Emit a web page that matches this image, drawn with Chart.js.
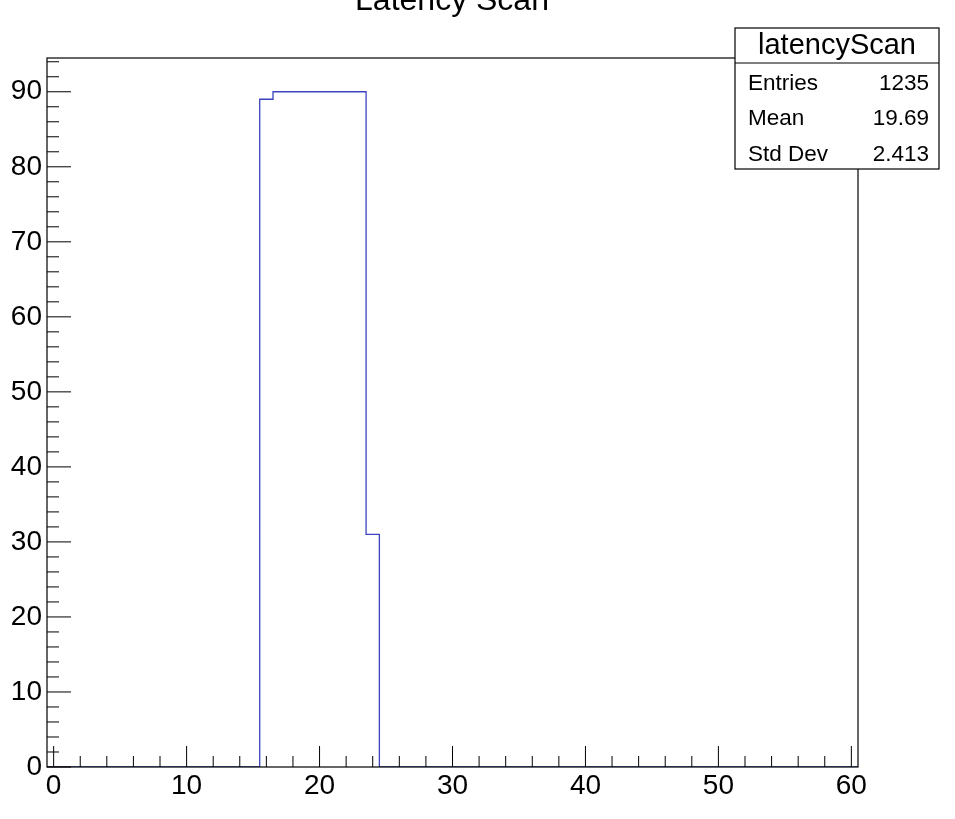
<!DOCTYPE html>
<html>
<head>
<meta charset="utf-8">
<title>Latency Scan</title>
<script src="https://cdn.jsdelivr.net/npm/chart.js@4.4.1/dist/chart.umd.min.js"></script>
<style>
  html, body { margin: 0; padding: 0; background: #fff; }
  #wrap { width: 955px; height: 819px; position: relative; }
</style>
</head>
<body>
<div id="wrap"><canvas id="myChart" width="955" height="819"></canvas></div>
<script>
// histogram data: bins of width 1 centred on 0..60
const binLow = -0.5;
const binWidth = 1;
const counts = [
  0, 0, 0, 0, 0, 0, 0, 0, 0, 0,
  0, 0, 0, 0, 0, 0, 89, 90, 90, 90,
  90, 90, 90, 90, 31, 0, 0, 0, 0, 0,
  0, 0, 0, 0, 0, 0, 0, 0, 0, 0,
  0, 0, 0, 0, 0, 0, 0, 0, 0, 0,
  0, 0, 0, 0, 0, 0, 0, 0, 0, 0,
  0
];
const xTicks = [0, 10, 20, 30, 40, 50, 60];
const yTicks = [0, 10, 20, 30, 40, 50, 60, 70, 80, 90];
const statsTitle = 'latencyScan';
const statsLabels = ['Entries', 'Mean', 'Std Dev'];
const statsValues = ['1235', '19.69', '2.413'];
const chartTitle = 'Latency Scan';

const FONT = '"Liberation Sans", Helvetica, Arial, sans-serif';

// step outline points at bin edges
const edges = counts.map((c, i) => ({ x: binLow + i * binWidth, y: c }));
edges.push({ x: binLow + counts.length * binWidth, y: counts[counts.length - 1] });

const rootFrame = {
  id: 'rootFrame',
  afterDraw(chart) {
    const ctx = chart.ctx;
    const a = chart.chartArea;
    const xs = chart.scales.x, ys = chart.scales.y;
    ctx.save();

    // ticks (inside the frame, left and bottom only)
    ctx.strokeStyle = '#000';
    ctx.lineWidth = 1;
    ctx.beginPath();
    for (let v = 0; v <= ys.max; v += 2) {
      const y = ys.getPixelForValue(v);
      const len = v % 10 === 0 ? 24 : 12;
      ctx.moveTo(a.left, y);
      ctx.lineTo(a.left + len, y);
    }
    for (let v = 0; v <= 60; v += 2) {
      const x = xs.getPixelForValue(v);
      const len = v % 10 === 0 ? 21 : 11;
      ctx.moveTo(x, a.bottom);
      ctx.lineTo(x, a.bottom - len);
    }
    ctx.stroke();

    // frame
    ctx.strokeStyle = '#000';
    ctx.lineWidth = 1.2;
    ctx.strokeRect(a.left, a.top, a.right - a.left, a.bottom - a.top);

    // stats box
    const bx = 735, by = 28, bw = 204, bh = 141;
    ctx.fillStyle = '#fff';
    ctx.fillRect(bx, by, bw, bh);
    ctx.strokeRect(bx, by, bw, bh);
    ctx.beginPath();
    ctx.moveTo(bx, by + 35);
    ctx.lineTo(bx + bw, by + 35);
    ctx.stroke();

    ctx.fillStyle = '#000';
    ctx.textBaseline = 'middle';
    ctx.textAlign = 'center';
    ctx.font = '29px ' + FONT;
    ctx.fillText(statsTitle, bx + bw / 2, by + 18);
    ctx.font = '22.5px ' + FONT;
    statsLabels.forEach((lab, i) => {
      const y = 83.5 + i * 35.5;
      ctx.textAlign = 'left';
      ctx.fillText(lab, bx + 13, y);
      ctx.textAlign = 'right';
      ctx.fillText(statsValues[i], bx + bw - 10, y);
    });

    // title, mostly above the top of the canvas
    ctx.textAlign = 'center';
    ctx.textBaseline = 'alphabetic';
    ctx.font = '32px ' + FONT;
    ctx.fillText(chartTitle, 452, 10);
    ctx.restore();
  }
};

const ctx = document.getElementById('myChart').getContext('2d');
const myChart = new Chart(ctx, {
  type: 'line',
  data: {
    datasets: [{
      label: statsTitle,
      data: edges,
      stepped: 'before',
      borderColor: '#3a44bd',
      borderWidth: 1.3,
      pointRadius: 0,
      fill: false
    }]
  },
  options: {
    responsive: false,
    animation: false,
    layout: { padding: { top: 58, right: 97, left: 0, bottom: 0 } },
    plugins: { legend: { display: false }, tooltip: { enabled: false }, title: { display: false } },
    scales: {
      x: {
        type: 'linear',
        min: -0.5,
        max: 60.5,
        grid: { display: false, drawTicks: false },
        border: { display: false },
        ticks: { color: '#000', font: { family: FONT, size: 28 }, padding: 2, maxRotation: 0 },
        afterBuildTicks: s => { s.ticks = xTicks.map(v => ({ value: v })); },
        afterFit: s => { s.height = 52; }
      },
      y: {
        type: 'linear',
        min: 0,
        max: 94.5,
        grid: { display: false, drawTicks: false },
        border: { display: false },
        ticks: { color: '#000', font: { family: FONT, size: 28 }, padding: 5 },
        afterBuildTicks: s => { s.ticks = yTicks.map(v => ({ value: v })); },
        afterFit: s => { s.width = 47; }
      }
    }
  },
  plugins: [rootFrame]
});
</script>
</body>
</html>
